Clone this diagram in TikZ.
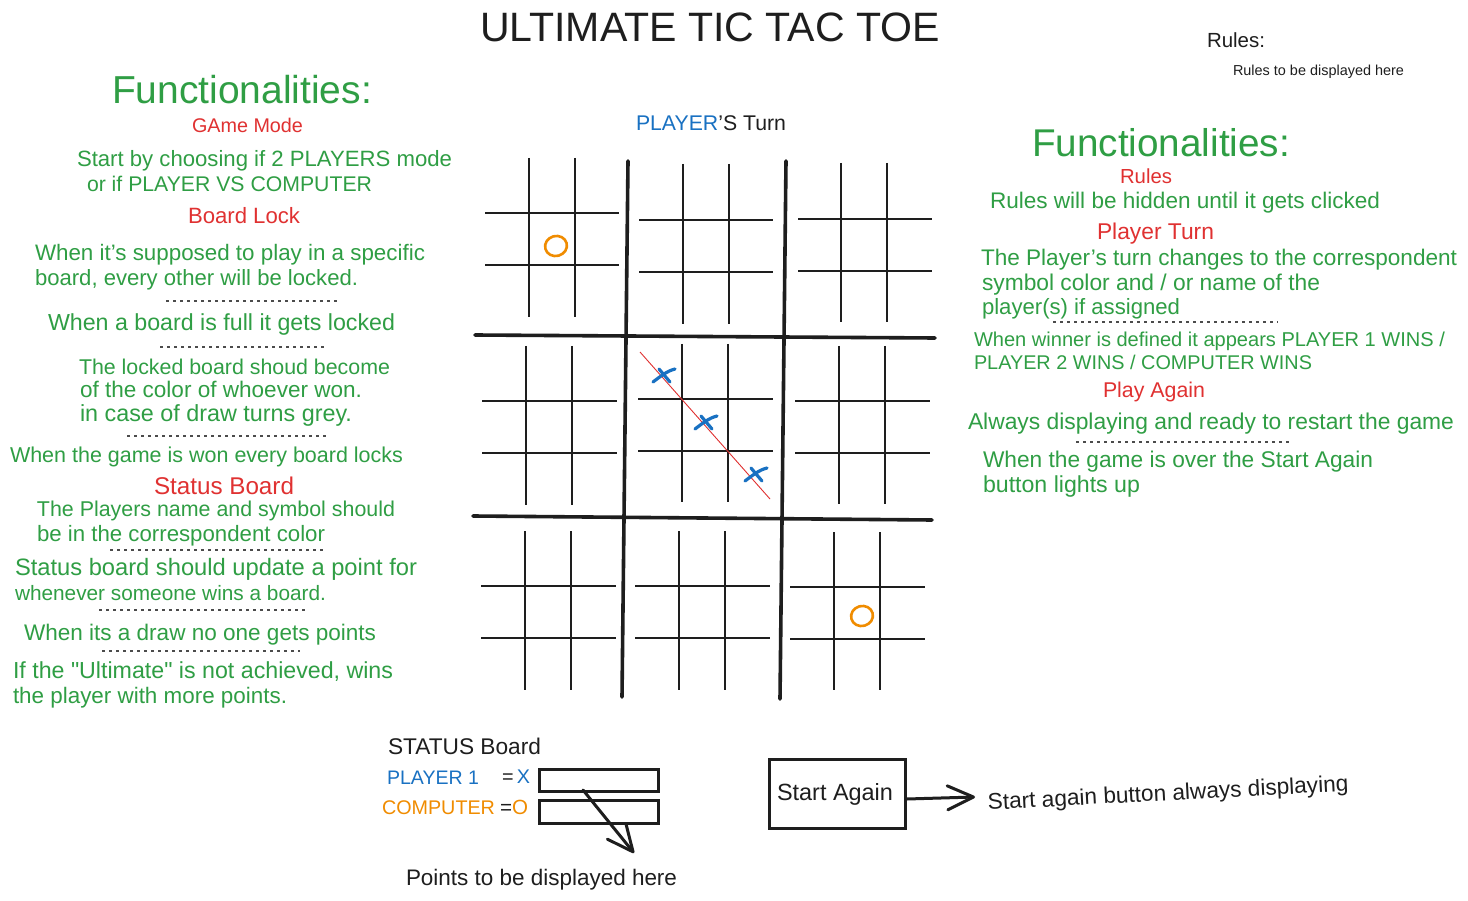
\documentclass[tikz,border=0pt]{standalone}
\usepackage{fontspec}
\setmainfont{Liberation Sans}
\usetikzlibrary{arrows.meta}
\definecolor{ink}{HTML}{1E1E1E}
\definecolor{xgreen}{HTML}{2F9E44}
\definecolor{xred}{HTML}{E03131}
\definecolor{xblue}{HTML}{1971C2}
\definecolor{xorange}{HTML}{F08C00}
% colour, name, baseline-left position, width, font size, text
\newcommand\tl[6]{\node[anchor=base west,inner sep=0pt,outer sep=0pt,text=#1,font=\fontsize{#5}{#5}\selectfont] (#2) at (#3) {\resizebox{#4pt}{!}{#6}};}
% xa xb ytop ybot ya yb xl xr
\newcommand\sboard[8]{%
  \draw[thinline] (#1,#3) -- (#1,#4);
  \draw[thinline] (#2,#3) -- (#2,#4);
  \draw[thinline] (#7,#5) -- (#8,#5);
  \draw[thinline] (#7,#6) -- (#8,#6);}
\newcommand\xmk[1]{%
  \begin{scope}[shift={(#1)}]
    \draw[xmark] (-11,7) .. controls (-3,1) and (3,-4) .. (11,-6);
    \draw[xmark] (-5,-6) -- (6,7);
  \end{scope}}
\tikzset{
  thinline/.style={ink,line width=1.9pt},
  thickline/.style={ink,line width=3.6pt,line cap=round},
  xmark/.style={xblue,line width=3.2pt,line cap=round},
  omark/.style={xorange,line width=2.6pt},
  dotline/.style={ink!80,line width=1.1pt,dash pattern=on 2.5pt off 4.5pt},
  boxstyle/.style={draw=ink,line width=3pt,inner sep=0pt,anchor=north west},
  arr/.style={ink,line width=3pt,line cap=round,-{Straight Barb[length=26pt,width=24pt,round]}}
}
\begin{document}
\begin{tikzpicture}[x=1pt,y=-1pt]
\useasboundingbox[fill=white] (0,0) rectangle (1468,901);

% ---------- title & header ----------
\tl{ink}{title}{480,42}{460}{34}{ULTIMATE TIC TAC TOE}
\tl{ink}{rules}{1207,48}{58}{18}{Rules:}
\tl{ink}{rulestxt}{1233,76}{171}{13}{Rules to be displayed here}
\tl{ink}{turn}{636,131}{150}{20}{\textcolor{xblue}{PLAYER}'S Turn}

% ---------- big board ----------
\draw[thickline] (628,161) -- (622,697);
\draw[thickline] (786,161) -- (780,699);
\draw[thickline] (475,335) -- (935,338);
\draw[thickline] (473,516) -- (932,520);

\sboard{529}{575}{158}{317}{213}{265}{485}{619}
\sboard{683}{729}{164}{324}{220}{272}{639}{773}
\sboard{841}{887}{163}{322}{219}{271}{798}{932}
\sboard{526}{572}{346}{505}{401}{453}{482}{617}
\sboard{682}{728}{344}{502}{399}{451}{638}{773}
\sboard{839}{885}{346}{504}{401}{453}{795}{930}
\sboard{525}{571}{531}{690}{586}{638}{481}{616}
\sboard{679}{725}{531}{690}{586}{638}{635}{770}
\sboard{834}{880}{532}{690}{587}{639}{790}{925}

\draw[omark,rotate around={15:(556,246)}] (556,246) ellipse [x radius=11, y radius=10];
\draw[omark,rotate around={15:(862,616)}] (862,616) ellipse [x radius=11, y radius=10];
\draw[xred,line width=0.9pt] (640,352) -- (770,499);
\xmk{664,375}
\xmk{706,422}
\xmk{756,474}

% ---------- left functionalities ----------
\tl{xgreen}{lf}{112,104}{260}{36}{Functionalities:}
\tl{xred}{l1}{192,133}{111}{20}{GAme Mode}
\tl{xgreen}{l2}{77,167}{375}{20}{Start by choosing if 2 PLAYERS mode}
\tl{xgreen}{l3}{87,192}{285}{20}{or if PLAYER VS COMPUTER}
\tl{xred}{l4}{188,224}{112}{20}{Board Lock}
\tl{xgreen}{l5}{35,261}{390}{20}{When it's supposed to play in a specific}
\tl{xgreen}{l6}{35,286}{323}{20}{board, every other will be locked.}
\draw[dotline] (166,301) -- (340,301);
\tl{xgreen}{l7}{48,331}{347}{20}{When a board is full it gets locked}
\draw[dotline] (160,347) -- (327,347);
\tl{xgreen}{l8}{79,374}{311}{20}{The locked board shoud become}
\tl{xgreen}{l9}{80,397}{282}{20}{of the color of whoever won.}
\tl{xgreen}{l10}{80,421}{272}{20}{in case of draw turns grey.}
\draw[dotline] (127,436) -- (327,436);
\tl{xgreen}{l11}{10,462}{393}{20}{When the game is won every board locks}
\tl{xred}{l12}{154,494}{140}{20}{Status Board}
\tl{xgreen}{l13}{37,516}{358}{20}{The Players name and symbol should}
\tl{xgreen}{l14}{37,541}{288}{20}{be in the correspondent color}
\draw[dotline] (110,550) -- (327,550);
\tl{xgreen}{l15}{15,575}{402}{20}{Status board should update a point for}
\tl{xgreen}{l16}{15,600}{311}{20}{whenever someone wins a board.}
\draw[dotline] (99,610) -- (307,610);
\tl{xgreen}{l17}{24,640}{352}{20}{When its a draw no one gets points}
\draw[dotline] (102,651) -- (300,651);
\tl{xgreen}{l18}{13,678}{380}{20}{If the {\addfontfeatures{Ligatures=TeXOff}"Ultimate"} is not achieved, wins}
\tl{xgreen}{l19}{13,703}{274}{20}{the player with more points.}

% ---------- right functionalities ----------
\tl{xgreen}{rf}{1032,157}{258}{36}{Functionalities:}
\tl{xred}{r1}{1120,184}{52}{20}{Rules}
\tl{xgreen}{r2}{990,209}{390}{20}{Rules will be hidden until it gets clicked}
\tl{xred}{r3}{1097,240}{117}{20}{Player Turn}
\tl{xgreen}{r4}{981,266}{476}{20}{The Player's turn changes to the correspondent}
\tl{xgreen}{r5}{982,291}{338}{20}{symbol color and / or name of the}
\tl{xgreen}{r6}{982,315}{198}{20}{player(s) if assigned}
\draw[dotline] (1053,322) -- (1278,322);
\tl{xgreen}{r7}{974,347}{471}{20}{When winner is defined it appears PLAYER 1 WINS /}
\tl{xgreen}{r8}{974,370}{338}{20}{PLAYER 2 WINS / COMPUTER WINS}
\tl{xred}{r9}{1103,398}{102}{20}{Play Again}
\tl{xgreen}{r10}{968,430}{486}{20}{Always displaying and ready to restart the game}
\draw[dotline] (1076,442) -- (1292,442);
\tl{xgreen}{r11}{983,467}{390}{20}{When the game is over the Start Again}
\tl{xgreen}{r12}{983,492}{157}{20}{button lights up}

% ---------- status board ----------
\tl{ink}{sb}{388,754}{153}{20}{STATUS Board}
\tl{xblue}{p1}{387,784}{92}{20}{PLAYER 1}
\tl{ink}{p1s}{502,783}{28}{20}{=\,\textcolor{xblue}{X}}
\tl{xorange}{p2}{382,814}{113}{20}{COMPUTER}
\tl{ink}{p2s}{500,814}{28}{20}{=\textcolor{xorange}{O}}
\node[boxstyle,minimum width=119pt,minimum height=22pt] (box1) at (538,768) {};
\node[boxstyle,minimum width=119pt,minimum height=23pt] (box2) at (538,799) {};
\coordinate (pa) at (583,790);
\coordinate (pb) at (634,853);
\draw[arr] (pa) -- (pb);
\tl{ink}{pts}{406,885}{271}{20}{Points to be displayed here}

% ---------- start again ----------
\node[boxstyle,minimum width=136pt,minimum height=69pt] (sa) at (768,758) {};
\tl{ink}{satxt}{777,800}{116}{20}{Start Again}
\coordinate (sb2) at (975,797);
\draw[arr] (sa.east |- 0,799) -- (sb2);
\node[anchor=base west,inner sep=0pt,text=ink,rotate=3,font=\fontsize{20}{20}\selectfont] (note) at (988,810) {\resizebox{361pt}{!}{Start again button always displaying}};
\end{tikzpicture}
\end{document}
